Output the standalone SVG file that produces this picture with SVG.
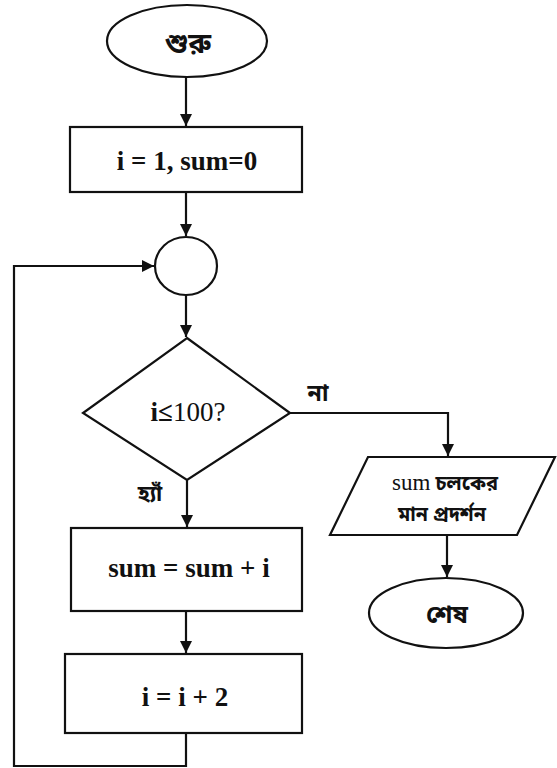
<svg xmlns="http://www.w3.org/2000/svg" width="557" height="768" viewBox="0 0 557 768">
<style>
.s{fill:#fff;stroke:#111;stroke-width:2.2}
.c{fill:none;stroke:#111;stroke-width:2.2}
.t{font-family:"Liberation Serif","Times New Roman",serif;font-weight:bold;font-size:27px;fill:#111;text-anchor:middle}
.b{font-family:"Noto Sans Bengali","Noto Serif Bengali","Lohit Bengali","Noto Sans","DejaVu Sans",sans-serif;font-weight:bold;font-size:21px;fill:#111;text-anchor:middle}
</style>
<defs>
<marker id="a" viewBox="0 0 10 10" refX="10" refY="5" markerWidth="5.5" markerHeight="5.5" orient="auto" markerUnits="strokeWidth">
<path d="M0,0 L10,5 L0,10 z" fill="#111"/>
</marker>
</defs>
<g id="connectors">
<line class="c" x1="186" y1="77" x2="186" y2="126" marker-end="url(#a)"/>
<line class="c" x1="186" y1="192" x2="186" y2="236" marker-end="url(#a)"/>
<line class="c" x1="186" y1="295" x2="186" y2="337" marker-end="url(#a)"/>
<line class="c" x1="187" y1="480" x2="187" y2="527" marker-end="url(#a)"/>
<line class="c" x1="186" y1="611" x2="186" y2="653" marker-end="url(#a)"/>
<polyline class="c" points="186,733 186,766 14,766 14,266 154,266" marker-end="url(#a)"/>
<polyline class="c" points="290,413 448,413 448,456" marker-end="url(#a)"/>
<line class="c" x1="447" y1="535" x2="447" y2="577" marker-end="url(#a)"/>
<text class="b" x="318" y="401" style="font-size:23px">না</text>
<text class="b" x="150" y="501" style="font-size:22px">হ্যাঁ</text>
</g>
<g id="start">
<ellipse class="s" cx="187" cy="41" rx="80" ry="36"/>
<text class="b" x="188" y="53" style="font-size:28px">শুরু</text>
</g>
<g id="init">
<rect class="s" x="70" y="127" width="232" height="65"/>
<text class="t" x="187" y="170">i = 1, sum=0</text>
</g>
<g id="junction">
<ellipse class="s" cx="186" cy="266" rx="31" ry="29"/>
</g>
<g id="decision">
<polygon class="s" points="187,338 290,413 187,480 83,413"/>
<text class="t" x="188" y="421">i≤<tspan font-weight="normal">100?</tspan></text>
</g>
<g id="sum">
<rect class="s" x="71" y="528" width="231" height="83"/>
<text class="t" x="189" y="577">sum = sum + i</text>
</g>
<g id="incr">
<rect class="s" x="65" y="654" width="237" height="79"/>
<text class="t" x="185" y="706">i = i + 2</text>
</g>
<g id="output">
<polygon class="s" points="368,457 555,457 517,535 330,535"/>
<text class="b" x="445" y="490" style="font-size:20px"><tspan style="font-family:'Liberation Serif',serif;font-weight:normal;font-size:23px">sum</tspan> চলকের</text>
<text class="b" x="442" y="521" style="font-size:21px" textLength="88" lengthAdjust="spacingAndGlyphs">মান প্রদর্শন</text>
</g>
<g id="end">
<ellipse class="s" cx="446" cy="613" rx="77" ry="35"/>
<text class="b" x="447" y="623" style="font-size:25px">শেষ</text>
</g>
</svg>
